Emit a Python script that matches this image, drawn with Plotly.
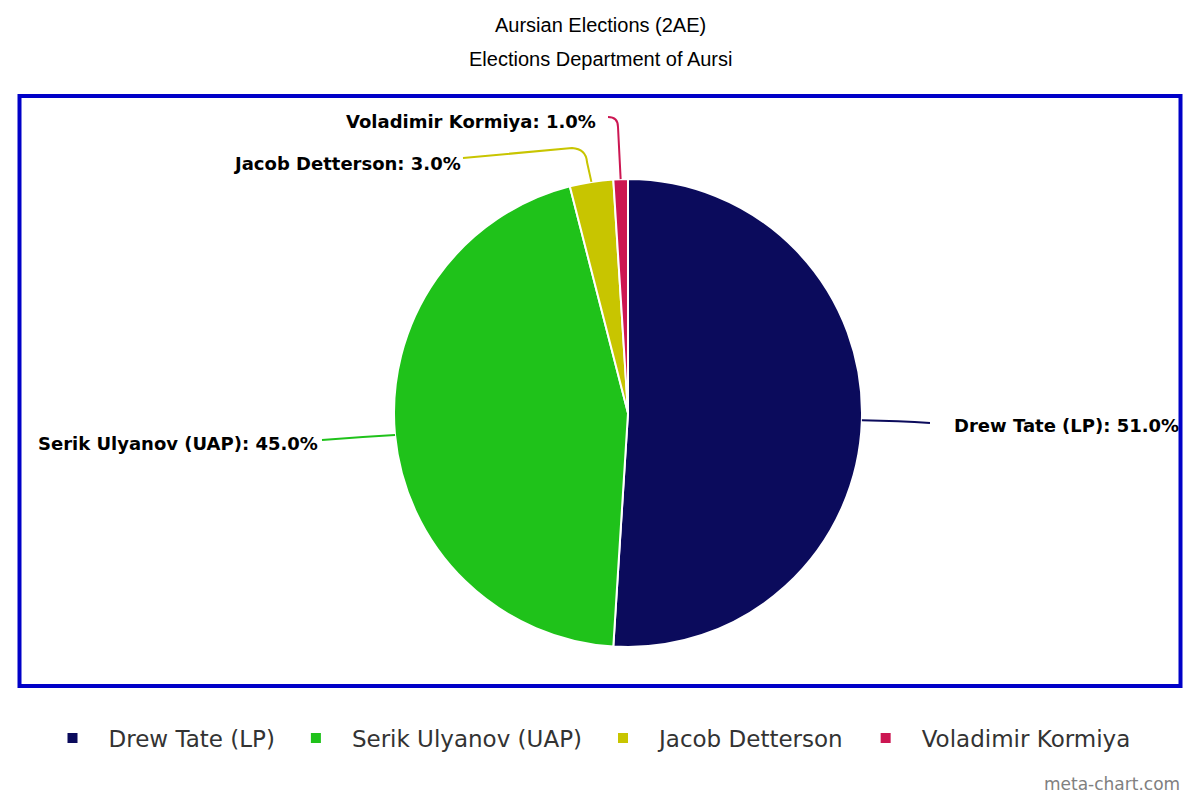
import math
import plotly.graph_objects as go

# ---- data ----
labels = ["Drew Tate (LP)", "Serik Ulyanov (UAP)", "Jacob Detterson", "Voladimir Kormiya"]
values = [51.0, 45.0, 3.0, 1.0]
colors = ["#0b0b5c", "#1fc21a", "#c8c500", "#cc1652"]
title_lines = ["Aursian Elections (2AE)", "Elections Department of Aursi"]
watermark = "meta-chart.com"

# ---- layout geometry (pixels) ----
W, H = 1200, 800
CX, CY, R = 628, 413, 234


def px(x):
    return x / W


def py(y):
    return 1 - y / H


fig = go.Figure(
    go.Pie(
        labels=labels,
        values=values,
        sort=False,
        direction="clockwise",
        rotation=0,
        marker=dict(colors=colors, line=dict(color="white", width=2)),
        textinfo="none",
        hoverinfo="label+percent",
        domain=dict(x=[px(CX - R), px(CX + R)], y=[py(CY + R), py(CY - R)]),
        showlegend=True,
    )
)

# label routing (pixel positions of callout geometry, per slice index)
callouts = [
    dict(mid=None, ctrl=(900, 421), end=(930, 423), tx=952, ty=425, anchor="left"),
    dict(mid=None, ctrl=(360, 437), end=(322, 440), tx=320, ty=443, anchor="right"),
    dict(mid=(587, 162), ctrl=(586, 149), end=(463, 158), tx=463, ty=163, anchor="right"),
    dict(mid=(618, 127), ctrl=(618, 117), end=(608, 117), tx=598, ty=121, anchor="right"),
]

shapes = []
annotations = []
total = sum(values)
cum = 0.0
for lab, val, col, co in zip(labels, values, colors, callouts):
    frac_mid = (cum + val / 2) / total
    cum += val
    th = 2 * math.pi * frac_mid
    sx = CX + R * math.sin(th)
    sy = CY - R * math.cos(th)
    if co["mid"] is None:
        path = "M {},{} Q {},{} {},{}".format(
            px(sx), py(sy), px(co["ctrl"][0]), py(co["ctrl"][1]), px(co["end"][0]), py(co["end"][1])
        )
    else:
        long_tail = co["end"][0] < co["ctrl"][0] - 20
        kx = co["ctrl"][0] - 14 if long_tail else co["end"][0]
        ky = co["ctrl"][1] - 1 if long_tail else co["end"][1]
        path = "M {},{} L {},{} Q {},{} {},{} L {},{}".format(
            px(sx), py(sy),
            px(co["mid"][0]), py(co["mid"][1]),
            px(co["ctrl"][0]), py(co["ctrl"][1]),
            px(kx), py(ky),
            px(co["end"][0]), py(co["end"][1]),
        )
    shapes.append(dict(type="path", xref="paper", yref="paper", path=path,
                       line=dict(color=col, width=2)))
    pct = 100 * val / total
    annotations.append(dict(
        x=px(co["tx"]), y=py(co["ty"]), xref="paper", yref="paper",
        xanchor=co["anchor"], yanchor="middle", showarrow=False,
        text="<b>{}: {:.1f}%</b>".format(lab, pct),
        font=dict(family="DejaVu Sans", size=18, color="#000000"),
    ))

# plot border
shapes.append(dict(type="rect", xref="paper", yref="paper",
                   x0=px(19.5), x1=px(1180.5), y0=py(686), y1=py(96),
                   line=dict(color="#0000c8", width=4), layer="below"))

# titles
for txt, yy in zip(title_lines, [25, 59]):
    annotations.append(dict(x=0.5, y=py(yy), xref="paper", yref="paper",
                            xanchor="center", yanchor="middle", showarrow=False,
                            text=txt, font=dict(family="Liberation Sans", size=20, color="#000000")))

annotations.append(dict(x=px(1182), y=py(784), xref="paper", yref="paper",
                        xanchor="right", yanchor="middle", showarrow=False,
                        text=watermark, font=dict(family="DejaVu Sans", size=17, color="#808080")))

fig.update_layout(
    width=W, height=H,
    margin=dict(l=0, r=0, t=0, b=0),
    paper_bgcolor="white", plot_bgcolor="white",
    shapes=shapes,
    annotations=annotations,
    legend=dict(orientation="h", x=px(586), xanchor="center", y=py(738), yanchor="middle",
                font=dict(family="DejaVu Sans", size=23, color="#333333"),
                itemwidth=62, traceorder="normal"),
)

fig.write_html(
    "out.html",
    config={"displayModeBar": False},
    post_script="document.body.style.margin='0px';document.body.style.overflow='hidden';",
)
